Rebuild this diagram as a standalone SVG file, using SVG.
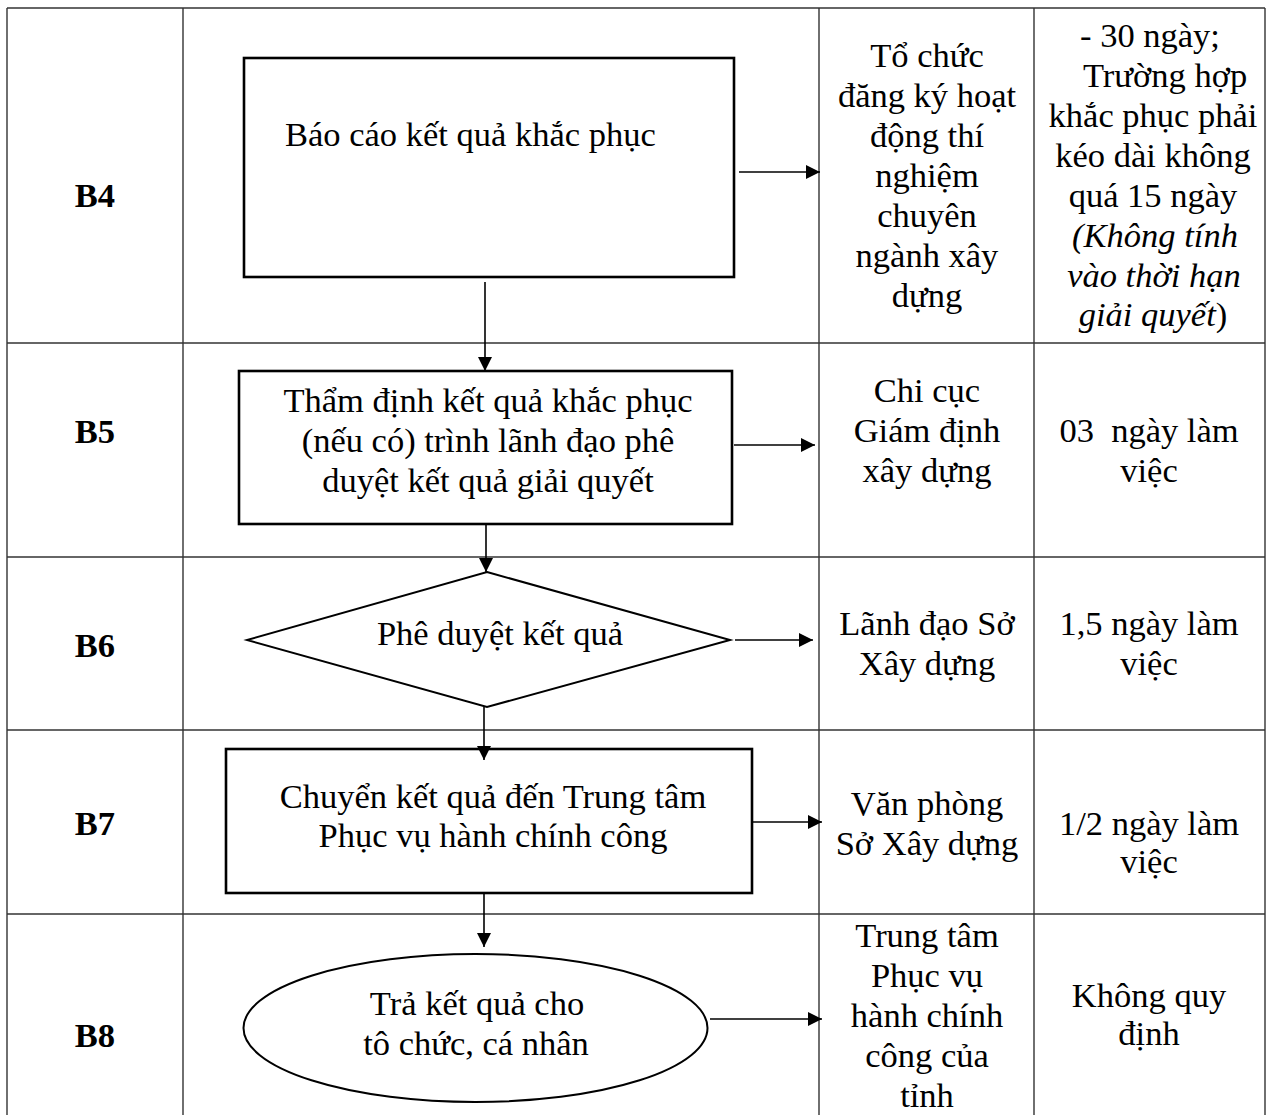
<svg xmlns="http://www.w3.org/2000/svg" width="1269" height="1115" viewBox="0 0 1269 1115">
<style>
  text { font-family: "Liberation Serif", "Times New Roman", serif; font-size: 34.5px; fill: #000; }
  .c { text-anchor: middle; }
  .lbl { font-weight: bold; text-anchor: middle; }
  .it { font-style: italic; }
  .pre { white-space: pre; }
  .grid line { stroke: #333; stroke-width: 1.4; }
  .box { fill: none; stroke: #000; stroke-width: 2.6; }
  .shape { fill: none; stroke: #000; stroke-width: 2; }
  .conn { stroke: #000; stroke-width: 1.6; fill: none; marker-end: url(#arr); }
</style>
<defs>
  <marker id="arr" markerUnits="userSpaceOnUse" markerWidth="14" markerHeight="14" viewBox="0 0 14 14" refX="14" refY="7" orient="auto">
    <path d="M0,0 L14,7 L0,14 z" fill="#000"/>
  </marker>
</defs>
<rect width="1269" height="1115" fill="#fff"/>

<g id="grid" class="grid">
  <line x1="7" y1="8" x2="1265" y2="8"/>
  <line x1="7" y1="343" x2="1265" y2="343"/>
  <line x1="7" y1="557" x2="1265" y2="557"/>
  <line x1="7" y1="730" x2="1265" y2="730"/>
  <line x1="7" y1="914" x2="1265" y2="914"/>
  <line x1="7" y1="8" x2="7" y2="1115"/>
  <line x1="183" y1="8" x2="183" y2="1115"/>
  <line x1="819" y1="8" x2="819" y2="1115"/>
  <line x1="1034" y1="8" x2="1034" y2="1115"/>
  <line x1="1265" y1="8" x2="1265" y2="1115"/>
</g>

<g id="labels">
  <text class="lbl" x="95" y="207">B4</text>
  <text class="lbl" x="95" y="443">B5</text>
  <text class="lbl" x="95" y="657">B6</text>
  <text class="lbl" x="95" y="835">B7</text>
  <text class="lbl" x="95" y="1047">B8</text>
</g>

<g id="node-b4">
  <rect class="box" x="244" y="58" width="490" height="219"/>
  <text x="285" y="146">Báo cáo kết quả khắc phục</text>
</g>

<g id="node-b5">
  <rect class="box" x="239" y="371" width="493" height="153"/>
  <text class="c" x="488" y="412">Thẩm định kết quả khắc phục</text>
  <text class="c" x="488" y="452">(nếu có) trình lãnh đạo phê</text>
  <text class="c" x="488" y="492">duyệt kết quả giải quyết</text>
</g>

<g id="node-b6">
  <polygon class="shape" points="487,572 730,640 487,707 247,640"/>
  <text class="c" x="500" y="645">Phê duyệt kết quả</text>
</g>

<g id="node-b7">
  <rect class="box" x="226" y="749" width="526" height="144"/>
  <text class="c" x="493" y="808">Chuyển kết quả đến Trung tâm</text>
  <text class="c" x="493" y="847">Phục vụ hành chính công</text>
</g>

<g id="node-b8">
  <ellipse class="shape" cx="475.5" cy="1028" rx="232" ry="74" stroke-width="2.3"/>
  <text class="c" x="477" y="1015">Trả kết quả cho</text>
  <text class="c" x="476" y="1055">tô chức, cá nhân</text>
</g>

<g id="col-unit">
  <text class="c" x="927" y="67">Tổ chức</text>
  <text class="c" x="927" y="107">đăng ký hoạt</text>
  <text class="c" x="927" y="147">động thí</text>
  <text class="c" x="927" y="187">nghiệm</text>
  <text class="c" x="927" y="227">chuyên</text>
  <text class="c" x="927" y="267">ngành xây</text>
  <text class="c" x="927" y="307">dựng</text>

  <text class="c" x="927" y="402">Chi cục</text>
  <text class="c" x="927" y="442">Giám định</text>
  <text class="c" x="927" y="482">xây dựng</text>

  <text class="c" x="927" y="635">Lãnh đạo Sở</text>
  <text class="c" x="927" y="675">Xây dựng</text>

  <text class="c" x="927" y="815">Văn phòng</text>
  <text class="c" x="927" y="855">Sở Xây dựng</text>

  <text class="c" x="927" y="947">Trung tâm</text>
  <text class="c" x="927" y="987">Phục vụ</text>
  <text class="c" x="927" y="1027">hành chính</text>
  <text class="c" x="927" y="1067">công của</text>
  <text class="c" x="927" y="1107">tỉnh</text>
</g>

<g id="col-time">
  <text class="c" x="1150" y="47">- 30 ngày;</text>
  <text x="1083" y="87">Trường hợp</text>
  <text class="c" x="1153" y="127">khắc phục phải</text>
  <text class="c" x="1153" y="167">kéo dài không</text>
  <text class="c" x="1153" y="207">quá 15 ngày</text>
  <text class="c it" x="1155" y="247">(Không tính</text>
  <text class="c it" x="1154" y="287">vào thời hạn</text>
  <text class="c" x="1153" y="326"><tspan class="it">giải quyết</tspan>)</text>

  <text class="c pre" x="1149" y="442" xml:space="preserve">03  ngày làm</text>
  <text class="c" x="1149" y="482">việc</text>

  <text class="c" x="1149" y="635">1,5 ngày làm</text>
  <text class="c" x="1149" y="675">việc</text>

  <text class="c" x="1149" y="835">1/2 ngày làm</text>
  <text class="c" x="1149" y="873">việc</text>

  <text class="c" x="1149" y="1007">Không quy</text>
  <text class="c" x="1149" y="1045">định</text>
</g>

<g id="connectors">
  <line class="conn" x1="739" y1="172" x2="820" y2="172"/>
  <line class="conn" x1="734" y1="445" x2="815" y2="445"/>
  <line class="conn" x1="735" y1="640" x2="813" y2="640"/>
  <line class="conn" x1="753" y1="822" x2="822" y2="822"/>
  <line class="conn" x1="710" y1="1019" x2="822" y2="1019"/>
  <line class="conn" x1="485" y1="282" x2="485" y2="371"/>
  <line class="conn" x1="486" y1="524" x2="486" y2="572"/>
  <line class="conn" x1="484" y1="707" x2="484" y2="760"/>
  <line class="conn" x1="484" y1="893" x2="484" y2="947"/>
</g>
</svg>
